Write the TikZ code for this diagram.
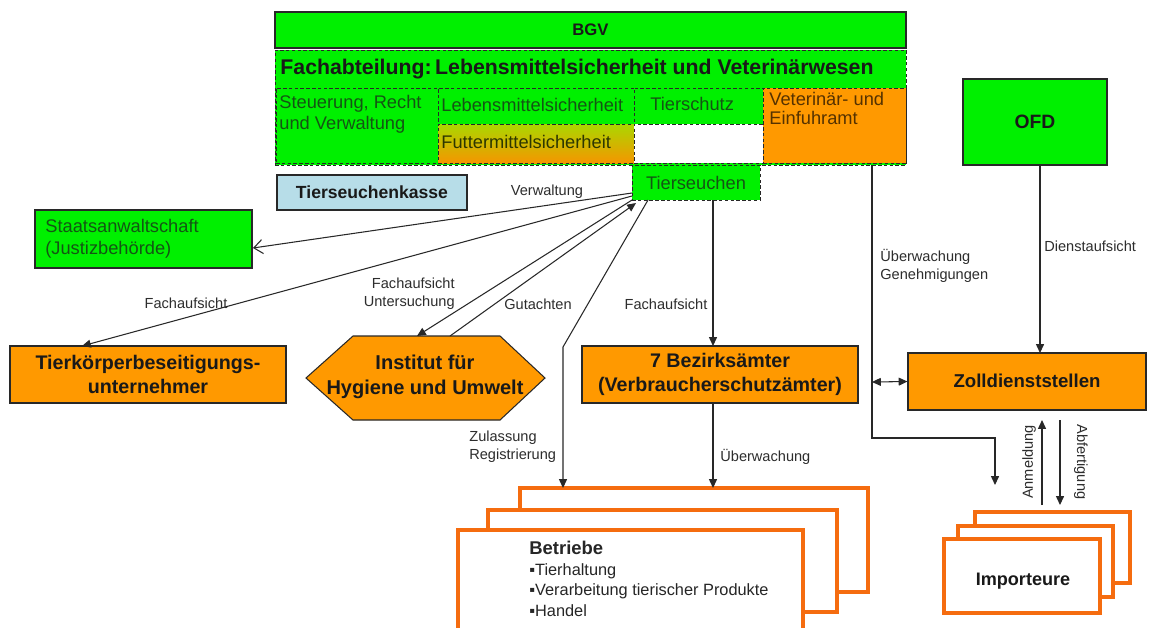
\documentclass[tikz,border=0pt]{standalone}
\usepackage{fontspec}
\setmainfont{Liberation Sans}
\usetikzlibrary{arrows.meta,fit}
\definecolor{cgreen}{RGB}{0,240,0}
\definecolor{corange}{RGB}{255,153,0}
\definecolor{cblue}{RGB}{183,221,232}
\definecolor{cstack}{RGB}{245,108,15}
\definecolor{cline}{RGB}{40,40,40}
\definecolor{gtext}{RGB}{20,85,20}
\definecolor{otext}{RGB}{85,50,0}
\definecolor{ftext}{RGB}{45,55,0}
\definecolor{ltext}{RGB}{45,45,45}
\definecolor{futtop}{RGB}{170,215,0}
\definecolor{futbot}{RGB}{245,150,0}
\tikzset{
  box/.style={draw=cline, line width=0.6pt, inner sep=0pt},
  dbox/.style={draw=cline, line width=0.5pt, dash pattern=on 2pt off 1.3pt, inner sep=0pt},
  conn/.style={draw=cline, line width=0.6pt},
  arr/.style={conn, -{Triangle[length=5pt,width=4.5pt]}},
  dblarr/.style={conn, {Triangle[length=5pt,width=4.5pt]}-{Triangle[length=5pt,width=4.5pt]}},
  openarr/.style={conn, -{Straight Barb[length=5pt,width=8pt]}},
  lbl/.style={font=\fontsize{8.3}{10.2}\selectfont, text=ltext, inner sep=0pt},
  rtxt/.style={font=\fontsize{10.4}{11.9}\selectfont, inner sep=0pt},
  btxt/.style={font=\fontsize{11.2}{13.6}\selectfont\bfseries, text=black!90, inner sep=0pt, align=center},
  stackbox/.style={draw=cstack, line width=2.8pt, fill=white},
}
\begin{document}
\begin{tikzpicture}[x=0.02cm,y=-0.02cm]
\clip (0,0) rectangle (1152,627);
\fill[white] (0,0) rectangle (1152,627);

% ---------- BGV block ----------
\node[box, fill=cgreen, fit={(275,12)(906,48)}] (bgv) {};
\node[font=\fontsize{9.5}{11}\selectfont\bfseries, text=black!90, inner sep=0pt] (bgvtxt) at (bgv.center) {BGV};
\node[dbox, fill=cgreen, fit={(275,50)(906,165)}] (fa) {};
\node[font=\fontsize{12.1}{13}\selectfont\bfseries, text=black!90, inner sep=0pt] (fatitle) at (577,69) {Fachabteilung:\,Lebensmittelsicherheit und Veterinärwesen};

\node[dbox, fill=cgreen, fit={(276,88)(438,163)}] (steu) {};
\node[rtxt, text=gtext, anchor=north west, align=left] (steutxt) at (279,95) {Steuerung, Recht\\und Verwaltung};

\node[dbox, fill=cgreen, fit={(438,88)(634,124)}] (leb) {};
\node[rtxt, text=gtext, anchor=west] (lebtxt) at (441,105) {Lebensmittelsicherheit};

\node[dbox, top color=futtop, bottom color=futbot, fit={(438,124)(634,163)}] (fut) {};
\node[rtxt, text=ftext, anchor=west] (futtxt) at (441,142) {Futtermittelsicherheit};

\node[dbox, fill=cgreen, fit={(634,88)(763,124)}] (tsch) {};
\node[rtxt, text=gtext, anchor=west] (tschtxt) at (650,104) {Tierschutz};

\node[dbox, fill=white, fit={(634,124)(763,163)}] (leer) {};

\node[dbox, fill=corange, fit={(763,88)(906,163)}] (vet) {};
\node[rtxt, text=otext, anchor=north west, align=left, font=\fontsize{10.4}{10.9}\selectfont] (vettxt) at (769,92) {Veterinär- und\\Einfuhramt};

\node[dbox, fill=cgreen, fit={(632,165)(760,200)}] (ts) {};
\node[rtxt, text=gtext] (tstxt) at (ts.center) {Tierseuchen};

% ---------- other boxes ----------
\node[box, fill=cblue, fit={(277,175)(467,210)}] (tsk) {};
\node[font=\fontsize{10}{12}\selectfont\bfseries, text=black!90, inner sep=0pt] (tsktxt) at (tsk.center) {Tierseuchenkasse};

\node[box, fill=cgreen, fit={(35,210)(252,268)}] (sa) {};
\node[rtxt, text=gtext, anchor=north west, align=left, font=\fontsize{10.4}{12.4}\selectfont] (satxt) at (45,219) {Staatsanwaltschaft\\(Justizbehörde)};

\node[box, fill=corange, fit={(10,346)(286,403)}] (tk) {};
\node[btxt] (tktxt) at (tk.center) {Tierkörperbeseitigungs-\\unternehmer};

\draw[box, fill=corange] (306,378) -- (353,336) -- (500,336) -- (545,378) -- (500,420) -- (353,420) -- cycle;
\node[btxt, font=\fontsize{11.4}{14}\selectfont\bfseries] (inst) at (425,377) {Institut für\\Hygiene und Umwelt};

\node[box, fill=corange, fit={(582,346)(858,403)}] (bez) {};
\node[btxt] (beztxt) at (bez.center) {7 Bezirksämter\\(Verbraucherschutzämter)};

\node[box, fill=corange, fit={(908,353)(1146,410)}] (zoll) {};
\node[btxt, font=\fontsize{10.6}{13}\selectfont\bfseries] (zolltxt) at (1027,381) {Zolldienststellen};

\node[box, fill=cgreen, fit={(963,79)(1107,165)}] (ofd) {};
\node[btxt, font=\fontsize{11}{13}\selectfont\bfseries] (ofdtxt) at (ofd.center) {OFD};

% ---------- Betriebe stack ----------
\draw[stackbox] (520,488) rectangle (868,592);
\draw[stackbox] (488,510) rectangle (837,612);
\node[stackbox, inner sep=0pt, fit={(458,530)(803,645)}] (betr) {};
\node[anchor=north west, align=left, inner sep=0pt, font=\fontsize{9.3}{11.7}\selectfont, text=black!85] (betrtxt) at (529,541)
  {{\fontsize{10.5}{11.7}\selectfont\bfseries Betriebe}\\▪Tierhaltung\\▪Verarbeitung tierischer Produkte\\▪Handel};
\coordinate (betrtop) at (563,488);
\coordinate (betrtop2) at (713,488);

% ---------- Importeure stack ----------
\draw[stackbox, line width=2.5pt] (975,512) rectangle (1130,583);
\draw[stackbox, line width=2.5pt] (958,526) rectangle (1113,597);
\node[stackbox, line width=2.5pt, inner sep=0pt, fit={(944,539)(1100,613)}] (imp) {};
\node[font=\fontsize{10.3}{12}\selectfont\bfseries, text=black!90, inner sep=0pt] (imptxt) at (1023,581) {Importeure};

% ---------- connector points ----------
\coordinate (tsa) at (632,193);
\coordinate (tsb) at (632,196);
\coordinate (tsc) at (632,200);
\coordinate (tsd) at (636,203);
\coordinate (tse) at (648,200);
\coordinate (saE) at (253,248);
\coordinate (tkN) at (82,346);
\coordinate (instA) at (417,336);
\coordinate (instB) at (450,336);
\coordinate (zk) at (563,347);
\coordinate (tsF) at (713,200);
\coordinate (bezF) at (713,346);
\coordinate (bezS) at (713,403);
\coordinate (vetS) at (872,165);
\coordinate (vk1) at (872,438);
\coordinate (vk2) at (995,438);
\coordinate (impA) at (995,485);
\coordinate (vline) at (872,382);
\coordinate (ofdS) at (1040,165);
\coordinate (zollN) at (1040,353);
\coordinate (zollS1) at (1042,420);
\coordinate (impT1) at (1042,505);
\coordinate (zollS2) at (1060,420);
\coordinate (impT2) at (1060,505);

% ---------- connectors ----------
\draw[openarr] (tsa) -- (saE);
\draw[arr] (tsb) -- (tkN);
\draw[arr] (tsc) -- (instA);
\draw[arr] (instB) -- (tsd);
\draw[arr] (tse) -- (zk) -- (betrtop);
\draw[arr] (tsF) -- (bezF);
\draw[arr] (bezS) -- (betrtop2);
\draw[arr] (vetS) -- (vk1) -- (vk2) -- (impA);
\draw[dblarr] (vline) -- (zoll.west);
\draw[arr] (ofdS) -- (zollN);
\draw[arr] (impT1) -- (zollS1);
\draw[arr] (zollS2) -- (impT2);

% ---------- labels ----------
\node[lbl] (lverw) at (547,192) {Verwaltung};
\node[lbl] (lfa1) at (186,303) {Fachaufsicht};
\node[lbl, align=right, anchor=east] (lfa2) at (455,294) {Fachaufsicht\\Untersuchung};
\node[lbl] (lgut) at (538,304) {Gutachten};
\node[lbl] (lfa3) at (666,304) {Fachaufsicht};
\node[lbl, align=left, anchor=west] (lzul) at (469,447) {Zulassung\\Registrierung};
\node[lbl, anchor=west] (lueb) at (720,457) {Überwachung};
\node[lbl, align=left, anchor=west] (lueb2) at (880,266) {Überwachung\\Genehmigungen};
\node[lbl, anchor=west] (ldienst) at (1044,246) {Dienstaufsicht};
\node[lbl, rotate=90] (lanm) at (1029,462) {Anmeldung};
\node[lbl, rotate=-90] (labf) at (1081,462) {Abfertigung};
\end{tikzpicture}
\end{document}
